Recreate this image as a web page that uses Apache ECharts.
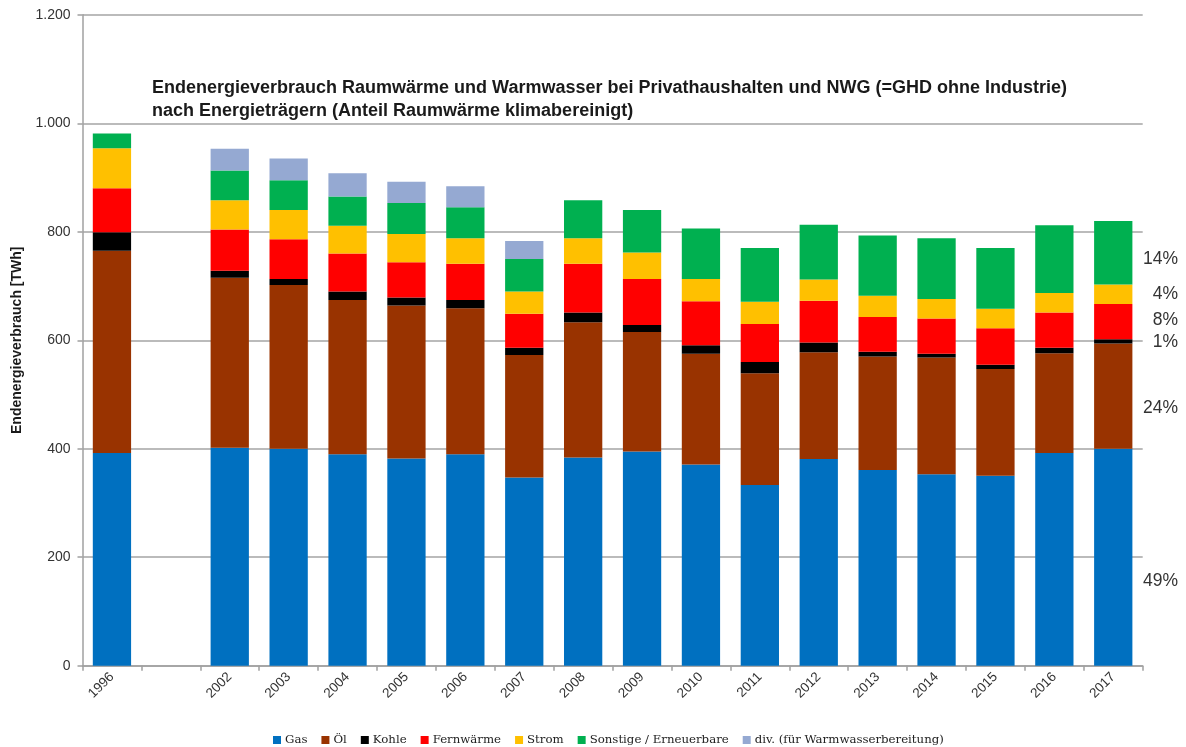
<!DOCTYPE html>
<html>
<head>
<meta charset="utf-8">
<title>Endenergieverbrauch Raumwärme und Warmwasser</title>
<script src="https://cdn.jsdelivr.net/npm/echarts@6/dist/echarts.min.js"></script>
<style>
  html, body { margin: 0; padding: 0; background: #fff; }
  #main { width: 1186px; height: 747px; }
</style>
</head>
<body>
<div id="main"></div>
<script>
// Jahre (Lücke zwischen 1996 und 2002 als leere Kategorie)
const years = ['1996', '', '2002', '2003', '2004', '2005', '2006', '2007', '2008', '2009',
  '2010', '2011', '2012', '2013', '2014', '2015', '2016', '2017'];

// Werte in TWh
const gas       = [392, null, 402, 400, 390, 382, 390, 347, 384, 395, 371, 333, 381, 361, 353, 350, 392, 400];
const oel       = [373, null, 313, 302, 284, 282, 269, 226, 249, 220, 204, 206, 197, 209, 215, 197, 184, 194];
const kohle     = [34, null, 13, 11, 16, 15, 15, 13, 18, 13, 16, 21, 18, 9, 7, 8, 10, 8];
const fernwaerme = [81, null, 76, 73, 70, 65, 67, 63, 90, 85, 81, 70, 77, 64, 65, 67, 65, 65];
const strom     = [74, null, 54, 54, 51, 52, 47, 41, 47, 49, 41, 41, 39, 39, 36, 36, 36, 36];
const sonstige  = [27, null, 55, 55, 54, 57, 57, 60, 70, 78, 93, 99, 101, 111, 112, 112, 125, 117];
const div       = [null, null, 40, 40, 43, 39, 39, 33, null, null, null, null, null, null, null, null, null, null];

// Anteile 2017 (Text rechts) und Höhe in TWh, an der sie stehen
const pctTexts  = ['14%', '4%', '8%', '1%', '24%', '49%'];
const pctLevels = [745, 682, 633, 592, 471, 152];

const seriesDefs = [
  { name: 'Gas', data: gas, color: '#0070C0' },
  { name: 'Öl', data: oel, color: '#993300' },
  { name: 'Kohle', data: kohle, color: '#000000' },
  { name: 'Fernwärme', data: fernwaerme, color: '#FF0000' },
  { name: 'Strom', data: strom, color: '#FFC000' },
  { name: 'Sonstige / Erneuerbare', data: sonstige, color: '#00B050' },
  { name: 'div. (für Warmwasserbereitung)', data: div, color: '#95A9D2' }
];

function deNum(v) {
  if (v >= 1000) return Math.floor(v / 1000) + '.' + String(v % 1000).padStart(3, '0');
  return String(v);
}

const chart = echarts.init(document.getElementById('main'));

const option = {
  animation: false,
  backgroundColor: '#fff',
  title: {
    text: 'Endenergieverbrauch Raumwärme und Warmwasser bei Privathaushalten und NWG (=GHD ohne Industrie)\nnach Energieträgern (Anteil Raumwärme klimabereinigt)',
    left: 147,
    top: 72,
    textStyle: {
      fontFamily: 'Liberation Sans',
      fontWeight: 'bold',
      fontSize: 18,
      lineHeight: 23,
      color: '#1a1a1a'
    }
  },
  legend: {
    left: 268,
    top: 729,
    itemWidth: 8,
    itemHeight: 8,
    itemGap: 14,
    icon: 'rect',
    textStyle: { fontFamily: 'DejaVu Serif', fontSize: 11.75, color: '#222', padding: [0, 0, 0, -1] },
    data: seriesDefs.map(s => s.name)
  },
  grid: { left: 82.5, right: 43.3, top: 14.8, bottom: 81.3, containLabel: false },
  xAxis: {
    type: 'category',
    data: years,
    axisLine: { lineStyle: { color: '#a0a0a0', width: 1.5 } },
    axisTick: { show: true, alignWithLabel: false, length: 5, lineStyle: { color: '#a0a0a0', width: 1.5 } },
    axisLabel: {
      rotate: 45,
      margin: 9,
      interval: 0,
      fontFamily: 'Liberation Sans',
      fontSize: 13.5,
      color: '#333'
    }
  },
  yAxis: {
    type: 'value',
    min: 0,
    max: 1200,
    interval: 200,
    name: 'Endenergieverbrauch [TWh]',
    nameLocation: 'middle',
    nameGap: 58,
    nameTextStyle: { fontFamily: 'Liberation Sans', fontWeight: 'bold', fontSize: 14, color: '#1a1a1a' },
    axisLine: { show: true, lineStyle: { color: '#a0a0a0', width: 1.5 } },
    axisTick: { show: true, length: 5, lineStyle: { color: '#a0a0a0', width: 1.5 } },
    axisLabel: {
      margin: 12,
      fontFamily: 'Liberation Sans',
      fontSize: 14,
      color: '#333',
      formatter: v => deNum(v)
    },
    splitLine: { lineStyle: { color: '#a5a5a5', width: 1.5 } }
  },
  series: seriesDefs.map(s => ({
    name: s.name,
    type: 'bar',
    stack: 'total',
    data: s.data,
    barCategoryGap: '35%',
    itemStyle: { color: s.color },
    emphasis: { disabled: true }
  }))
};

chart.setOption(option);

// Prozentangaben rechts neben dem Balken 2017
const pctGraphics = pctTexts.map((t, i) => {
  const y = chart.convertToPixel({ yAxisIndex: 0 }, pctLevels[i]);
  return {
    type: 'text',
    right: 8,
    top: y - 11,
    style: {
      text: t,
      fontFamily: 'Liberation Sans',
      fontSize: 17.5,
      fill: '#333',
      textAlign: 'right'
    }
  };
});
chart.setOption({ graphic: pctGraphics });
</script>
</body>
</html>
